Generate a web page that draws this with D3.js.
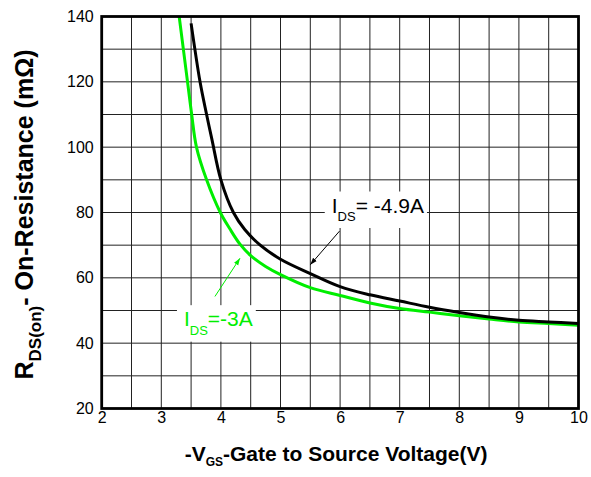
<!DOCTYPE html>
<html>
<head>
<meta charset="utf-8">
<script src="https://cdn.jsdelivr.net/npm/d3@7"></script>
<style>
  body { margin: 0; background: #fff; }
  text { font-family: Arial, "Liberation Sans", sans-serif; }
</style>
</head>
<body>
<div id="chart"></div>
<script>
var svgWidth = 591;
var svgHeight = 477;

var margin = { top: 16.5, right: 12.5, bottom: 68.5, left: 101.7 };

var width = svgWidth - margin.left - margin.right;
var height = svgHeight - margin.top - margin.bottom;

// data
var xTicks = [2, 3, 4, 5, 6, 7, 8, 9, 10];
var yTicks = [20, 40, 60, 80, 100, 120, 140];

// I_DS = -4.9A (black)
var vgsBlack = [3.5, 3.65, 3.76, 3.85, 4.0, 4.21, 4.4, 4.66, 5.0, 5.5, 6.0, 6.5, 7.0, 7.5, 8.0, 8.5, 9.0, 9.5, 10.0];
var rdsBlack = [137.9, 120, 110, 102.3, 90, 80, 74.8, 70, 65.7, 61.3, 57.3, 54.8, 52.9, 51.0, 49.4, 48.0, 47.0, 46.5, 46.0];

// I_DS = -3A (green)
var vgsGreen = [3.3, 3.44, 3.51, 3.59, 3.76, 3.99, 4.15, 4.32, 4.5, 4.75, 5.0, 5.5, 6.0, 6.5, 7.0, 7.5, 8.0, 8.5, 9.0, 9.5, 10.0];
var rdsGreen = [140, 120, 110, 100, 90, 80, 75, 70.3, 66.8, 63.5, 61.0, 57.0, 54.6, 52.3, 50.6, 49.5, 48.4, 47.4, 46.5, 46.0, 45.5];

var svg = d3.select("#chart")
  .append("svg")
  .attr("width", svgWidth)
  .attr("height", svgHeight);

var chartGroup = svg.append("g")
  .attr("transform", `translate(${margin.left}, ${margin.top})`);

var xLinearScale = d3.scaleLinear().domain([2, 10]).range([0, width]);
var yLinearScale = d3.scaleLinear().domain([20, 140]).range([height, 0]);

// grid
chartGroup.append("g")
  .selectAll("line")
  .data(d3.range(2.5, 10, 0.5))
  .enter()
  .append("line")
  .attr("x1", d => xLinearScale(d))
  .attr("x2", d => xLinearScale(d))
  .attr("y1", 0)
  .attr("y2", height)
  .attr("stroke", "#222")
  .attr("stroke-width", 1);

chartGroup.append("g")
  .selectAll("line")
  .data(d3.range(30, 140, 10))
  .enter()
  .append("line")
  .attr("x1", 0)
  .attr("x2", width)
  .attr("y1", d => yLinearScale(d))
  .attr("y2", d => yLinearScale(d))
  .attr("stroke", "#222")
  .attr("stroke-width", 1);

// axes
var bottomAxis = d3.axisBottom(xLinearScale).tickValues(xTicks).tickSize(0).tickPadding(3);
var leftAxis = d3.axisLeft(yLinearScale).tickValues(yTicks).tickSize(0).tickPadding(8);

var xAxis = chartGroup.append("g")
  .attr("transform", `translate(0, ${height})`)
  .call(bottomAxis);

var yAxis = chartGroup.append("g")
  .call(leftAxis);

xAxis.select(".domain").remove();
yAxis.select(".domain").remove();
svg.selectAll(".tick text")
  .attr("font-size", 16)
  .attr("font-family", "Arial, 'Liberation Sans', sans-serif")
  .attr("fill", "#000");

var lineGen = d3.line()
  .x(d => xLinearScale(d[0]))
  .y(d => yLinearScale(d[1]))
  .curve(d3.curveCatmullRom.alpha(0.5));

var annoGroup = chartGroup.append("g");

chartGroup.append("path")
  .datum(vgsGreen.map((v, i) => [v, rdsGreen[i]]))
  .attr("d", lineGen)
  .attr("fill", "none")
  .attr("stroke", "#00ee00")
  .attr("stroke-width", 3);

chartGroup.append("path")
  .datum(vgsBlack.map((v, i) => [v, rdsBlack[i]]))
  .attr("d", lineGen)
  .attr("fill", "none")
  .attr("stroke", "#000")
  .attr("stroke-width", 3);

// frame
chartGroup.append("rect")
  .attr("width", width)
  .attr("height", height)
  .attr("fill", "none")
  .attr("stroke", "#000")
  .attr("stroke-width", 2.8);

// arrow markers
var defs = svg.append("defs");
[["arrBlack", "#000"], ["arrGreen", "#00ee00"]].forEach(function (m) {
  defs.append("marker")
    .attr("id", m[0])
    .attr("viewBox", "0 0 10 10")
    .attr("refX", 10)
    .attr("refY", 5)
    .attr("markerWidth", 7)
    .attr("markerHeight", 7)
    .attr("orient", "auto")
    .append("path")
    .attr("d", "M0,1.5 L10,5 L0,8.5 Z")
    .attr("fill", m[1]);
});

function addLabel(x, y, sub, rest, color) {
  var g = annoGroup.append("g");
  var t = g.append("text")
    .attr("x", xLinearScale(x))
    .attr("y", yLinearScale(y))
    .attr("font-size", 21)
    .attr("fill", color);
  t.append("tspan").text("I");
  t.append("tspan").attr("font-size", 13).attr("dy", 8.5).text(sub);
  t.append("tspan").attr("dy", -8.5).text(rest);
  var bb = t.node().getBBox();
  g.insert("rect", "text")
    .attr("x", bb.x - 7)
    .attr("y", bb.y - 2)
    .attr("width", bb.width + 10)
    .attr("height", bb.height + 6)
    .attr("fill", "#fff");
}

function addArrow(from, to, color, id) {
  annoGroup.append("line")
    .attr("x1", xLinearScale(from[0]))
    .attr("y1", yLinearScale(from[1]))
    .attr("x2", xLinearScale(to[0]))
    .attr("y2", yLinearScale(to[1]))
    .attr("stroke", color)
    .attr("stroke-width", 1)
    .attr("marker-end", `url(#${id})`);
}

addLabel(5.86, 80, "DS", "= -4.9A", "#000");
addArrow([5.99, 74.3], [5.5, 64], "#000", "arrBlack");

addLabel(3.38, 45.2, "DS", "=-3A", "#00ee00");
addArrow([3.9, 54.3], [4.32, 66], "#00ee00", "arrGreen");

// axis titles
var xTitle = svg.append("text")
  .attr("x", margin.left + width / 2 - 4)
  .attr("y", 461)
  .attr("text-anchor", "middle")
  .attr("font-size", 21)
  .attr("font-weight", "bold");
xTitle.append("tspan").text("-V");
xTitle.append("tspan").attr("font-size", 12).attr("dy", 5).text("GS");
xTitle.append("tspan").attr("dy", -5).text("-Gate to Source Voltage(V)");

var yTitle = svg.append("text")
  .attr("transform", `translate(33, ${margin.top + height / 2 + 2}) rotate(-90)`)
  .attr("text-anchor", "middle")
  .attr("font-size", 25)
  .attr("font-weight", "bold");
yTitle.append("tspan").text("R");
yTitle.append("tspan").attr("font-size", 17).attr("dy", 8).text("DS(on)");
yTitle.append("tspan").attr("dy", -8).text("- On-Resistance (m\u03A9)");
</script>
</body>
</html>
